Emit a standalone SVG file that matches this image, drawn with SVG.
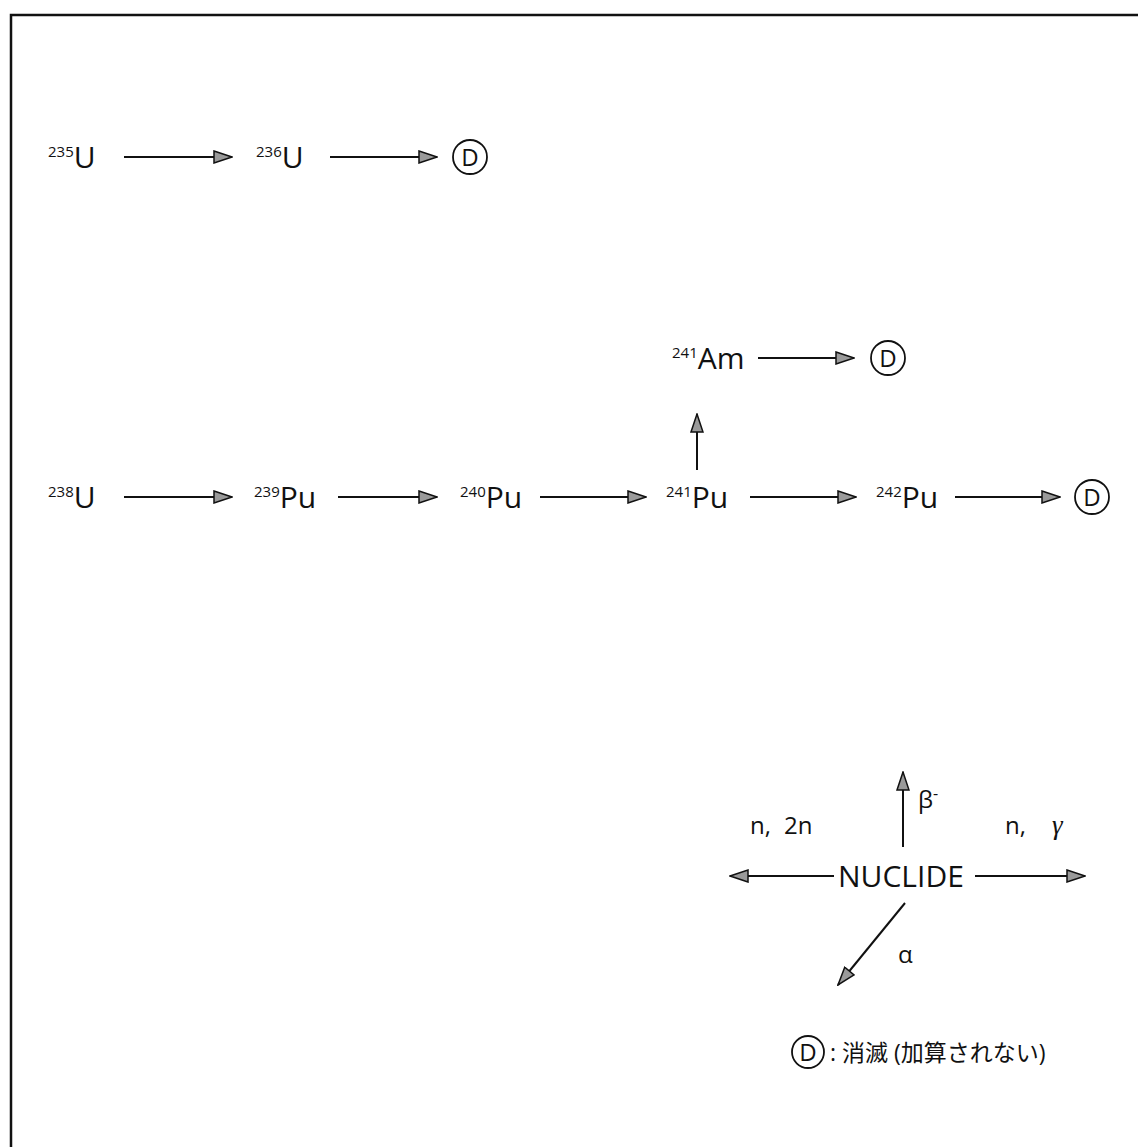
<svg xmlns="http://www.w3.org/2000/svg" width="1138" height="1147" viewBox="0 0 1138 1147">
<defs>
<marker id="ah" viewBox="0 0 20 14" refX="19" refY="7" markerWidth="20" markerHeight="14" markerUnits="userSpaceOnUse" orient="auto">
<path d="M1,1 L19,7 L1,13 Z" fill="#9a9a9a" stroke="#111" stroke-width="1.5" stroke-linejoin="miter"/>
</marker>
<style>
text{font-family:"Open Sans","Noto Sans","Liberation Sans",sans-serif;fill:#111}
.n{font-size:30px}
.s{font-size:15px}
.l{font-size:24px}
.d{font-size:24px;text-anchor:middle}
.c{fill:none;stroke:#111;stroke-width:1.8}
.e{stroke:#111;stroke-width:2;fill:none;marker-end:url(#ah)}
</style>
</defs>
<rect width="1138" height="1147" fill="#fff"/>
<path d="M11,1147 V15 H1138" fill="none" stroke="#111" stroke-width="2.5"/>

<g id="connectors">
<line class="e" x1="124" y1="157" x2="232" y2="157"/>
<line class="e" x1="330" y1="157" x2="437" y2="157"/>
<line class="e" x1="758" y1="358" x2="854" y2="358"/>
<line class="e" x1="697" y1="470" x2="697" y2="414"/>
<line class="e" x1="124" y1="497" x2="232" y2="497"/>
<line class="e" x1="338" y1="497" x2="437" y2="497"/>
<line class="e" x1="540" y1="497" x2="646" y2="497"/>
<line class="e" x1="750" y1="497" x2="856" y2="497"/>
<line class="e" x1="955" y1="497" x2="1060" y2="497"/>
<line class="e" x1="903" y1="847" x2="903" y2="772"/>
<line class="e" x1="834" y1="876" x2="730" y2="876"/>
<line class="e" x1="975" y1="876" x2="1085" y2="876"/>
<line class="e" x1="905" y1="903" x2="838" y2="985"/>
</g>

<g id="n235U"><text x="48" y="168"><tspan class="s" dy="-11">235</tspan><tspan class="n" dy="11">U</tspan></text></g>
<g id="n236U"><text x="256" y="168"><tspan class="s" dy="-11">236</tspan><tspan class="n" dy="11">U</tspan></text></g>
<g id="d1"><circle class="c" cx="470" cy="157" r="17"/><text class="d" x="470" y="166">D</text></g>

<g id="n241Am"><text x="672" y="369"><tspan class="s" dy="-11">241</tspan><tspan class="n" dy="11">Am</tspan></text></g>
<g id="d2"><circle class="c" cx="888" cy="358" r="17"/><text class="d" x="888" y="367">D</text></g>

<g id="n238U"><text x="48" y="508"><tspan class="s" dy="-11">238</tspan><tspan class="n" dy="11">U</tspan></text></g>
<g id="n239Pu"><text x="254" y="508"><tspan class="s" dy="-11">239</tspan><tspan class="n" dy="11">Pu</tspan></text></g>
<g id="n240Pu"><text x="460" y="508"><tspan class="s" dy="-11">240</tspan><tspan class="n" dy="11">Pu</tspan></text></g>
<g id="n241Pu"><text x="666" y="508"><tspan class="s" dy="-11">241</tspan><tspan class="n" dy="11">Pu</tspan></text></g>
<g id="n242Pu"><text x="876" y="508"><tspan class="s" dy="-11">242</tspan><tspan class="n" dy="11">Pu</tspan></text></g>
<g id="d3"><circle class="c" cx="1092" cy="497" r="17"/><text class="d" x="1092" y="506">D</text></g>

<g id="legend">
<text class="n" x="838" y="887">NUCLIDE</text>
<text class="l" x="750" y="834">n,<tspan x="784">2n</tspan></text>
<text class="l" x="1005" y="834">n,<tspan x="1052" font-size="27" font-family="Liberation Serif" font-style="italic">γ</tspan></text>
<text class="l" x="918" y="808">β<tspan font-size="16" dy="-9">-</tspan></text>
<text class="l" x="898" y="963">α</text>
</g>

<g id="legendD">
<circle class="c" cx="808" cy="1052" r="16"/><text class="d" x="808" y="1061">D</text>
<text x="830" y="1061" font-size="23" style="font-family:'Open Sans','Noto Sans CJK JP',sans-serif">: 消滅 (加算されない)</text>
</g>
</svg>
